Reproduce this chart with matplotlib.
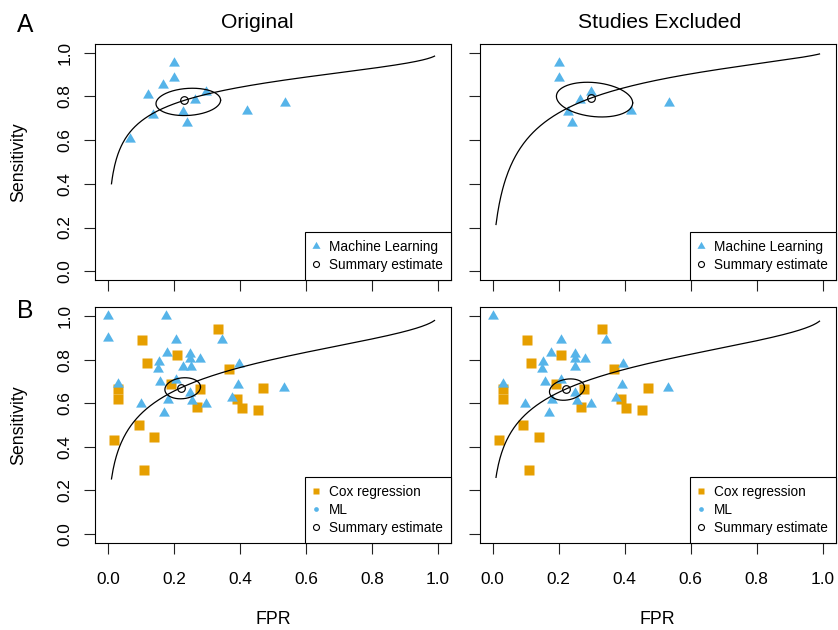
import numpy as np
import matplotlib
matplotlib.use("Agg")
import matplotlib.pyplot as plt
from matplotlib.lines import Line2D

plt.rcParams['font.family'] = ['Liberation Sans', 'DejaVu Sans']

# ---------------- data ----------------
# Panel A: machine learning studies (FPR, sensitivity)
ml_a_fpr = [0.200, 0.200, 0.165, 0.120, 0.297, 0.263, 0.228, 0.137, 0.240, 0.066, 0.420, 0.535]
ml_a_sens = [0.954, 0.886, 0.852, 0.806, 0.820, 0.785, 0.728, 0.717, 0.677, 0.605, 0.735, 0.768]
ml_a_excluded = [2, 3, 7, 9]

# Panel B: Cox regression studies
cox_fpr = [0.332, 0.104, 0.208, 0.117, 0.366, 0.191, 0.278, 0.469, 0.031, 0.030,
           0.390, 0.405, 0.268, 0.453, 0.093, 0.019, 0.140, 0.110]
cox_sens = [0.939, 0.891, 0.819, 0.783, 0.755, 0.689, 0.666, 0.671, 0.663, 0.617,
            0.617, 0.579, 0.584, 0.571, 0.501, 0.433, 0.447, 0.295]

# Panel B: ML studies
ml_b_fpr = [0.000, 0.175, 0.000, 0.344, 0.206, 0.178, 0.249, 0.249, 0.280, 0.153,
            0.150, 0.226, 0.250, 0.396, 0.031, 0.158, 0.206, 0.393, 0.532, 0.249,
            0.181, 0.254, 0.375, 0.099, 0.298, 0.170]
ml_b_sens = [1.000, 1.000, 0.901, 0.890, 0.889, 0.832, 0.825, 0.802, 0.805, 0.789,
             0.759, 0.766, 0.766, 0.779, 0.690, 0.699, 0.708, 0.685, 0.669, 0.648,
             0.615, 0.610, 0.625, 0.595, 0.595, 0.554]
ml_b_excluded = [1, 2, 11]

# Summary estimates (FPR, sens): [A original, A excluded, B original, B excluded]
summary_fpr = [0.230, 0.298, 0.221, 0.223]
summary_sens = [0.782, 0.793, 0.671, 0.666]

# Confidence ellipses: centre fpr, centre sens, x half-width, y half-height, tilt
ell_cx = [0.243, 0.3085, 0.226, 0.225]
ell_cy = [0.775, 0.7855, 0.6685, 0.6625]
ell_a = [0.098, 0.1155, 0.054, 0.053]
ell_b = [0.062, 0.078, 0.048, 0.048]
ell_c = [0.008, -0.015, 0.006, 0.010]

# SROC curves: logit(sens) = intercept + slope * logit(fpr)
sroc_intercept = [1.875, 1.948, 1.392, 1.338]
sroc_slope = [0.496, 0.707, 0.539, 0.519]
sroc_fpr_range = [0.01, 0.99]

col_titles = ["Original", "Studies Excluded"]
row_labels = ["A", "B"]
x_ticks = [0.0, 0.2, 0.4, 0.6, 0.8, 1.0]
y_ticks = [0.0, 0.2, 0.4, 0.6, 0.8, 1.0]

BLUE = "#56B4E9"
ORANGE = "#E69F00"
TRI = np.array([(0, 1), (-0.866, -0.5), (0.866, -0.5), (0, 1)])

# ---------------- figure ----------------
W, H = 838, 630
fig = plt.figure(figsize=(W / 100, H / 100), dpi=100)


def px_axes(l, t, r, b):
    return fig.add_axes([l / W, 1 - b / H, (r - l) / W, (b - t) / H])


boxes = {
    (0, 0): (95, 44, 451, 280),
    (0, 1): (479.5, 44, 836, 280),
    (1, 0): (95, 307.3, 451, 542.7),
    (1, 1): (479.5, 307.3, 836, 542.7),
}
title_x_px = [257, 660]


def logit(p):
    p = np.asarray(p)
    return np.log(p / (1 - p))


def expit(z):
    return 1 / (1 + np.exp(-z))


def keep(vals, excl):
    return [v for i, v in enumerate(vals) if i not in excl]


for (r, c), box in boxes.items():
    ax = px_axes(*box)
    k = r * 2 + c
    ax.set_xlim(-0.04, 1.04)
    ax.set_ylim(-0.04, 1.04)
    ax.set_xticks(x_ticks)
    ax.set_yticks(y_ticks)
    if c == 0:
        ax.set_yticklabels([f"{v:.1f}" for v in y_ticks])
    else:
        ax.set_yticklabels([])
    if r == 1:
        ax.set_xticklabels([f"{v:.1f}" for v in x_ticks])
    else:
        ax.set_xticklabels([])
    ax.tick_params(axis='both', direction='out', length=8, width=0.8,
                   labelsize=12.4, color='#222222')
    ax.tick_params(axis='x', pad=12.8)
    ax.tick_params(axis='y', pad=8.2)
    for lab in ax.get_yticklabels():
        lab.set_rotation(90)
        lab.set_va('center')
    for s in ax.spines.values():
        s.set_linewidth(0.8)

    if r == 0:
        ex = ml_a_excluded if c == 1 else []
        ax.plot(keep(ml_a_fpr, ex), keep(ml_a_sens, ex), ls='none', marker=TRI,
                ms=9.0, color=BLUE, mec='none', zorder=2)
    else:
        ex = ml_b_excluded if c == 1 else []
        ax.plot(cox_fpr, cox_sens, ls='none', marker='s', ms=6.8, color=ORANGE,
                mec='none', zorder=2)
        ax.plot(keep(ml_b_fpr, ex), keep(ml_b_sens, ex), ls='none', marker=TRI,
                ms=9.0, color=BLUE, mec='none', zorder=2)

    # SROC curve
    f = np.linspace(sroc_fpr_range[0], sroc_fpr_range[1], 400)
    s = expit(sroc_intercept[k] + sroc_slope[k] * logit(f))
    ax.plot(f, s, color='black', lw=0.9, zorder=3)

    # confidence ellipse
    t = np.linspace(0, 2 * np.pi, 300)
    ex_ = ell_cx[k] + ell_a[k] * np.cos(t)
    ey_ = ell_cy[k] + ell_b[k] * np.sin(t) + ell_c[k] * np.cos(t)
    ax.plot(ex_, ey_, color='black', lw=0.9, zorder=3)

    # summary point
    ax.plot([summary_fpr[k]], [summary_sens[k]], ls='none', marker='o', ms=5.5,
            mfc='none', mec='black', mew=0.85, zorder=4)

    # legend
    circ = Line2D([], [], ls='none', marker='o', ms=4.3, mfc='none', mec='black', mew=0.8)
    if r == 0:
        handles = [Line2D([], [], ls='none', marker=TRI, ms=6.7, color=BLUE, mec='none'), circ]
        labels = ["Machine Learning", "Summary estimate"]
    else:
        handles = [Line2D([], [], ls='none', marker='s', ms=4.8, color=ORANGE, mec='none'),
                   Line2D([], [], ls='none', marker='o', ms=3.4, color=BLUE, mec='none'),
                   circ]
        labels = ["Cox regression", "ML", "Summary estimate"]
    leg = ax.legend(handles, labels, loc='lower right', borderaxespad=0, fontsize=9.8,
                    frameon=True, fancybox=False, edgecolor='black', framealpha=1,
                    borderpad=0.6, handlelength=0.34, handletextpad=0.8,
                    labelspacing=0.28, numpoints=1)
    leg.get_frame().set_linewidth(0.8)

    if r == 0:
        fig.text(title_x_px[c] / W, 1 - 28 / H, col_titles[c], ha='center',
                 va='baseline', fontsize=15.2)
    if r == 1:
        cx = (box[0] + box[2]) / 2
        fig.text(cx / W, 1 - 620 / H, "FPR", ha='center', va='center', fontsize=12.8)
    if c == 0:
        cy = (box[1] + box[3]) / 2
        fig.text(19 / W, 1 - cy / H, "Sensitivity", ha='center', va='center',
                 rotation=90, fontsize=12.8)

fig.text(25 / W, 1 - 25.5 / H, row_labels[0], ha='center', va='center', fontsize=17.7)
fig.text(25 / W, 1 - 310.5 / H, row_labels[1], ha='center', va='center', fontsize=17.7)

fig.savefig("out.png", dpi=100)
